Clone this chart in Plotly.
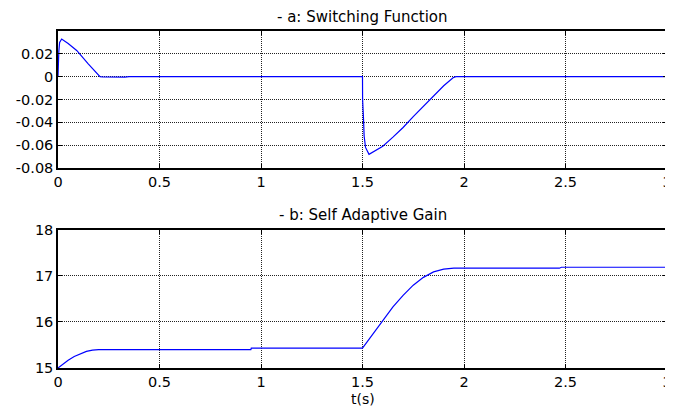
import plotly.graph_objects as go
from plotly.subplots import make_subplots

# Switching function (top panel)
t_sw = [0, 0.001, 0.004, 0.008, 0.018, 0.05, 0.092, 0.15, 0.207, 0.22, 0.25,
        0.28, 0.3, 0.33, 0.35, 1.5, 1.5005, 1.502, 1.505, 1.508, 1.515, 1.532,
        1.55, 1.6, 1.65, 1.7, 1.75, 1.8, 1.85, 1.9, 1.946, 1.96, 3.0]
s_sw = [0, 0.015, 0.022, 0.03, 0.033, 0.029, 0.023, 0.011, 0.0, -0.0003, -0.0004,
        0.0, -0.0005, -0.0004, 0, 0, -0.02, -0.036, -0.037, -0.052, -0.062, -0.068,
        -0.066, -0.061, -0.053, -0.0445, -0.035, -0.026, -0.0175, -0.008, -0.001, 0, 0]

# Self adaptive gain (bottom panel)
t_gain = [0, 0.02, 0.05, 0.08, 0.11, 0.14, 0.17, 0.2, 0.95, 0.952, 1.5, 1.52,
          1.55, 1.6, 1.65, 1.7, 1.75, 1.8, 1.85, 1.9, 1.95, 2.47, 2.48, 3.0]
k_gain = [15.0, 15.07, 15.17, 15.25, 15.31, 15.36, 15.39, 15.4, 15.4, 15.43, 15.43,
          15.55, 15.75, 16.05, 16.33, 16.58, 16.8, 16.97, 17.09, 17.15, 17.17,
          17.17, 17.19, 17.19]

x_ticks = [0, 0.5, 1, 1.5, 2, 2.5, 3]
x_ticklabels = ["0", "0.5", "1", "1.5", "2", "2.5", "3"]
y1_ticks = [-0.08, -0.06, -0.04, -0.02, 0, 0.02]
y1_ticklabels = ["-0.08", "-0.06", "-0.04", "-0.02", "0", "0.02"]
y2_ticks = [15, 16, 17, 18]
y2_ticklabels = ["15", "16", "17", "18"]

FONT = "DejaVu Sans"
FS = 14.5

fig = make_subplots(rows=2, cols=1, vertical_spacing=0.0)
fig.add_trace(go.Scatter(x=t_sw, y=s_sw, mode="lines",
                         line=dict(color="#0000ff", width=1.2)), row=1, col=1)
fig.add_trace(go.Scatter(x=t_gain, y=k_gain, mode="lines",
                         line=dict(color="#0000ff", width=1.2)), row=2, col=1)

axis_common = dict(showline=True, linecolor="black", linewidth=1.5, mirror="ticks",
                   ticks="inside", ticklen=4, tickcolor="black",
                   showgrid=True, gridcolor="#222222", griddash="1px,1px", gridwidth=1,
                   zeroline=False, automargin=False,
                   tickfont=dict(family=FONT, size=FS, color="black"))

fig.update_xaxes(**axis_common, range=[0, 3], tickvals=x_ticks, ticktext=x_ticklabels)
fig.update_yaxes(**axis_common)
fig.update_yaxes(range=[-0.08, 0.04], tickvals=y1_ticks, ticktext=y1_ticklabels, row=1, col=1)
fig.update_yaxes(range=[15, 18], tickvals=y2_ticks, ticktext=y2_ticklabels, row=2, col=1)

fig.update_layout(
    width=673, height=408,
    margin=dict(l=50, r=14, t=23, b=48),
    paper_bgcolor="white", plot_bgcolor="white",
    showlegend=False,
    font=dict(family=FONT, size=FS, color="black"),
    yaxis=dict(domain=[0.5935, 1.0]),
    yaxis2=dict(domain=[0.0, 0.4095]),
    annotations=[
        dict(text="- a: Switching Function", x=0.5, xref="paper", y=1.0, yref="paper",
             yanchor="middle", yshift=14, showarrow=False, font=dict(size=15)),
        dict(text="- b: Self Adaptive Gain", x=0.5, xref="paper", y=0.4095, yref="paper",
             yanchor="middle", yshift=15, showarrow=False, font=dict(size=15)),
        dict(text="t(s)", x=0.5, xref="paper", y=0, yref="paper",
             yanchor="middle", yshift=-31, showarrow=False, font=dict(size=14)),
    ],
)

fig.write_html("out.html")
